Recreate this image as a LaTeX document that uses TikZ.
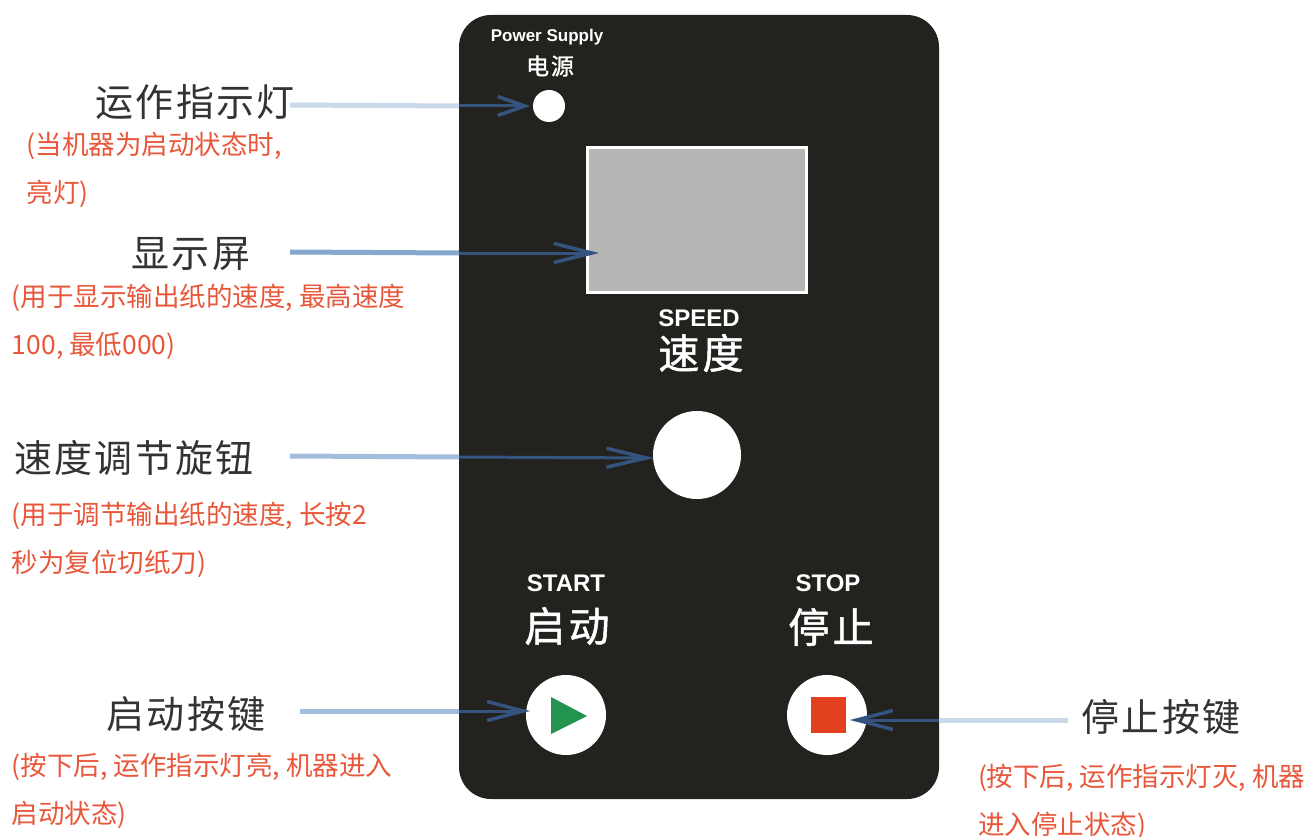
\documentclass[tikz,border=0pt]{standalone}
\usepackage{fontspec}
\usetikzlibrary{arrows.meta}
\newfontfamily\cjk{Noto Sans CJK SC}
\newfontfamily\cjkw[LetterSpace=6]{Noto Sans CJK SC}
\newfontfamily\cjkp[LetterSpace=8,FakeBold=1.2]{Noto Sans CJK SC}
\newfontfamily\lat{Liberation Sans}
\definecolor{panelc}{HTML}{23221E}
\definecolor{redt}{HTML}{E9573A}
\definecolor{blackt}{HTML}{333333}
\definecolor{lightb}{HTML}{C9D9EA}
\definecolor{midb}{HTML}{A3BEDC}
\definecolor{strongb}{HTML}{86A8CF}
\definecolor{darkb}{HTML}{34547F}
\definecolor{greybox}{HTML}{B5B5B6}
\definecolor{greenb}{HTML}{239350}
\definecolor{redb}{HTML}{E2401F}
\tikzset{
 x=1pt,y=-1pt,
 every node/.style={inner sep=0pt,outer sep=0pt},
 lbl/.style={text=blackt,anchor=center,font=\fontsize{38}{38}\cjkw},
 note/.style={text=redt,anchor=base west,font=\fontsize{26.5}{28}\cjk},
 paneltxt/.style={text=white,anchor=center,font=\fontsize{#1}{#1}\lat\bfseries},
 panelcjk/.style={text=white,anchor=center,font=\fontsize{#1}{#1}\cjkp},
 whitedisc/.style={circle,fill=white,draw=none},
 connlight/.style={draw=#1,line width=5pt},
 conndark/.style={draw=darkb,line width=3pt,-{Straight Barb[length=#1,width=19pt,line width=3.5pt]}},
}
\begin{document}
\begin{tikzpicture}
\useasboundingbox (0,0) rectangle (1309,837);
\fill[white] (0,0) rectangle (1309,837);
\node[draw=none,fill=panelc,rounded corners=32pt,minimum width=480pt,minimum height=784pt] (panel) at (699,407) {};
% panel parts
\node[whitedisc,minimum size=32pt] (led) at (549,106) {};
\node[draw=white,line width=3pt,fill=greybox,minimum width=219pt,minimum height=145pt] (screen) at (697,220) {};
\node[whitedisc,minimum size=88pt] (knob) at (697,455) {};
\node[whitedisc,minimum size=80pt] (startb) at (566,715) {};
\node[whitedisc,minimum size=80pt] (stopb) at (827,715) {};
\fill[greenb] (551,697) -- (587,716) -- (551,734) -- cycle;
\node[fill=redb,minimum width=35pt,minimum height=36pt] (stopsq) at (828,715) {};
% panel text
\node[paneltxt=17] (ps) at (547,37) {Power Supply};
\node[panelcjk=23] (dy) at (550,66) {电源};
\node[paneltxt=24] (sp) at (699,318) {SPEED};
\node[panelcjk=41] (sd) at (701,353) {速度};
\node[paneltxt=24] (st) at (566,583) {START};
\node[panelcjk=41] (qd) at (567,626) {启动};
\node[paneltxt=24] (so) at (828,583) {STOP};
\node[panelcjk=41] (tz) at (831,627) {停止};
% labels
\node[lbl] (l1) at (195,102) {运作指示灯};
\node[lbl] (l2) at (191,254) {显示屏};
\node[lbl] (l3) at (134,458) {速度调节旋钮};
\node[lbl] (l4) at (186,714) {启动按键};
\node[lbl] (l5) at (1161,717) {停止按键};
% notes
\node[note] (n1a) at (27,155) {(当机器为启动状态时,};
\node[note] (n1b) at (27,203) {亮灯)};
\node[note] (n2a) at (12,306) {(用于显示输出纸的速度, 最高速度};
\node[note] (n2b) at (12,354) {100, 最低000)};
\node[note] (n3a) at (12,524) {(用于调节输出纸的速度, 长按2};
\node[note] (n3b) at (12,572) {秒为复位切纸刀)};
\node[note] (n4a) at (12,775) {(按下后, 运作指示灯亮, 机器进入};
\node[note] (n4b) at (12,823) {启动状态)};
\node[note] (n5a) at (978,786) {(按下后, 运作指示灯灭, 机器};
\node[note] (n5b) at (978,834) {进入停止状态)};
% connector end coordinates
\coordinate (s1) at (290,105); \coordinate (e1) at (530,106); \coordinate (m1) at (459,106);
\coordinate (s2) at (290,252); \coordinate (e2) at (599,253); \coordinate (m2) at (459,253);
\coordinate (s3) at (290,456); \coordinate (e3) at (654,458); \coordinate (m3) at (459,457);
\coordinate (s4) at (300,711); \coordinate (e4) at (530,711); \coordinate (m4) at (459,711);
\coordinate (s5) at (1068,720); \coordinate (e5) at (850,720); \coordinate (m5) at (939,720);
\draw[connlight=lightb] (s1) -- (m1);
\draw[connlight=strongb] (s2) -- (m2);
\draw[connlight=midb] (s3) -- (m3);
\draw[connlight=midb] (s4) -- (m4);
\draw[connlight=lightb] (s5) -- (m5);
\draw[conndark=27pt] (m1) -- (e1);
\draw[conndark=38pt] (m2) -- (e2);
\draw[conndark=40pt] (m3) -- (e3);
\draw[conndark=36pt] (m4) -- (e4);
\draw[conndark=36pt] (m5) -- (e5);
\end{tikzpicture}
\end{document}
